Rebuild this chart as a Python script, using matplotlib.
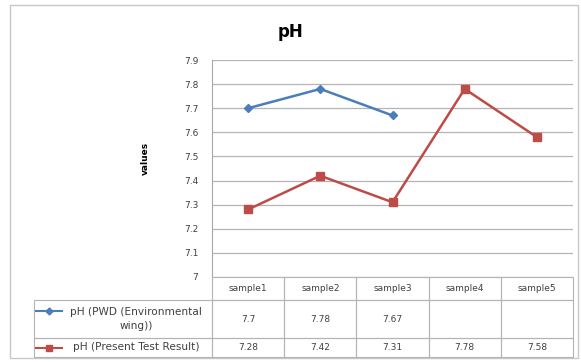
import matplotlib
matplotlib.use("Agg")
import matplotlib.pyplot as plt
from matplotlib.lines import Line2D
from matplotlib.patches import Rectangle
import numpy as np

categories = ["sample1", "sample2", "sample3", "sample4", "sample5"]
pwd_values = [7.7, 7.78, 7.67, None, None]
present_values = [7.28, 7.42, 7.31, 7.78, 7.58]
pwd_label = "pH (PWD (Environmental\nwing))"
present_label = "pH (Present Test Result)"
yticks = [7.0, 7.1, 7.2, 7.3, 7.4, 7.5, 7.6, 7.7, 7.8, 7.9]
ytick_labels = ["7", "7.1", "7.2", "7.3", "7.4", "7.5", "7.6", "7.7", "7.8", "7.9"]

W, H = 581, 362
fig = plt.figure(figsize=(W / 100, H / 100), dpi=100)
fig.patch.set_facecolor("white")


def fx(px):
    return px / W


def fy(py):
    return 1 - py / H


# outer frame
fig.add_artist(Rectangle((fx(10), fy(358)), 568 / W, 353 / H,
                         transform=fig.transFigure, fill=False,
                         edgecolor="#c8c8c8", linewidth=1.0))

x0, x1 = 212, 573
y_top, y_bot = 60, 277
ax = fig.add_axes([fx(x0), fy(y_bot), (x1 - x0) / W, (y_bot - y_top) / H])

blue = "#4a7ebb"
red = "#be4b48"
xs = np.arange(len(categories))
pwd_x = [x for x, v in zip(xs, pwd_values) if v is not None]
pwd_y = [v for v in pwd_values if v is not None]
ax.plot(pwd_x, pwd_y, color=blue, marker="D", markersize=4, linewidth=1.8, clip_on=False)
ax.plot(xs, present_values, color=red, marker="s", markersize=6, linewidth=1.8, clip_on=False)

ax.set_xlim(-0.5, len(categories) - 0.5)
ax.set_ylim(7.0, 7.9)
ax.set_yticks(yticks)
ax.set_yticklabels(ytick_labels, fontsize=6.5, color="#404040")
ax.set_xticks([])
ax.grid(axis="y", color="#b4b4b4", linewidth=0.9)
ax.set_axisbelow(True)
for s in ["top", "right", "bottom"]:
    ax.spines[s].set_visible(False)
ax.spines["left"].set_color("#a8a8a8")
ax.tick_params(axis="y", length=0, pad=10)

fig.text(fx(145), fy(158), "values", rotation=90, ha="center", va="center",
         fontsize=6.5, fontweight="bold")
fig.text(0.5, fy(32), "pH", ha="center", va="center", fontsize=12, fontweight="bold")

# table drawn cell by cell
edge = "#b4b4b4"
txt_col = "#404040"
tab_left = 34
col_w = (x1 - x0) / len(categories)
rows_y = [(y_bot, 300), (300, 338), (338, 357)]


def cell(px0, py0, px1, py1):
    fig.add_artist(Rectangle((fx(px0), fy(py1)), (px1 - px0) / W, (py1 - py0) / H,
                             transform=fig.transFigure, fill=False,
                             edgecolor=edge, linewidth=0.8))


# header row
for i, name in enumerate(categories):
    cx0 = x0 + i * col_w
    cell(cx0, rows_y[0][0], cx0 + col_w, rows_y[0][1])
    fig.text(fx(cx0 + col_w / 2), fy(sum(rows_y[0]) / 2), name, ha="center",
             va="center", fontsize=6.5, color=txt_col)

series = [(pwd_values, pwd_label, blue, "D", 3.5),
          (present_values, present_label, red, "s", 5)]
for r, (vals, label, col, mk, ms) in enumerate(series, start=1):
    ry0, ry1 = rows_y[r]
    cy = (ry0 + ry1) / 2
    cell(tab_left, ry0, x0, ry1)
    for i, v in enumerate(vals):
        cx0 = x0 + i * col_w
        cell(cx0, ry0, cx0 + col_w, ry1)
        if v is not None:
            fig.text(fx(cx0 + col_w / 2), fy(cy), f"{v:g}", ha="center",
                     va="center", fontsize=6.5, color=txt_col)
    my = cy - 8 if "\n" in label else cy
    fig.add_artist(Line2D([fx(36), fx(62)], [fy(my)] * 2, color=col,
                          linewidth=1.5, transform=fig.transFigure))
    fig.add_artist(Line2D([fx(49)], [fy(my)], color=col, marker=mk,
                          markersize=ms, transform=fig.transFigure))
    fig.text(fx(136), fy(cy), label, ha="center", va="center", fontsize=7.6,
             color=txt_col, linespacing=1.4)

fig.savefig("out.png", dpi=100)
